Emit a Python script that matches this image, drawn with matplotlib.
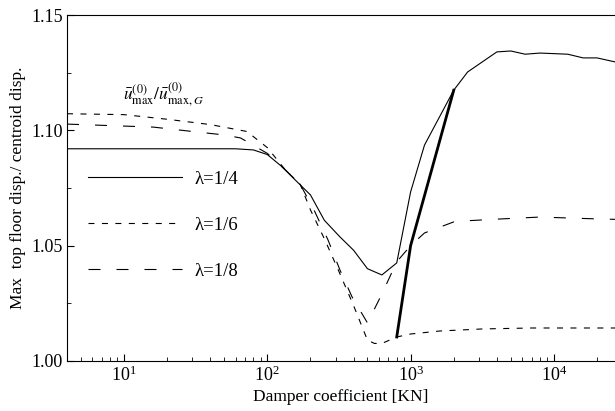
import matplotlib
matplotlib.use('Agg')
import matplotlib.pyplot as plt
import numpy as np

plt.rcParams['font.family'] = ['Liberation Serif', 'DejaVu Serif']
plt.rcParams['mathtext.fontset'] = 'stix'
plt.rcParams['font.size'] = 13

# lambda = 1/4 (solid)
c14 = [4, 10, 30, 60, 80, 100, 125, 160, 200, 250, 320, 400, 500, 630, 800, 1000, 1250,
       2000, 2500, 4000, 5000, 6300, 8000, 12500, 16000, 20000, 27000]
v14 = [1.092, 1.092, 1.092, 1.092, 1.0915, 1.0895, 1.0845, 1.0779, 1.072, 1.061, 1.0539, 1.048,
       1.040, 1.0373, 1.0425, 1.0733, 1.0936, 1.1174, 1.1253, 1.134, 1.1344, 1.133, 1.1335,
       1.133, 1.1314, 1.1314, 1.1296]

# lambda = 1/6 (short dash)
c16 = [4, 10, 20, 40, 72, 100, 133, 170, 200, 250, 315, 400, 500, 560, 630, 800, 1000,
       1600, 3200, 7000, 27000]
v16 = [1.1072, 1.1068, 1.1048, 1.1025, 1.0995, 1.0925, 1.083, 1.0765, 1.0655, 1.053, 1.039,
       1.024, 1.009, 1.0076, 1.0076, 1.0104, 1.0117, 1.013, 1.0139, 1.0143, 1.0143]

# lambda = 1/8 (long dash)
c18 = [4, 16, 30, 50, 65, 100, 133, 170, 215, 265, 321, 390, 500, 630, 800, 1000, 1250,
       2000, 2500, 4000, 8000, 12500, 20000, 27000]
v18 = [1.1027, 1.1014, 1.0995, 1.098, 1.0967, 1.090, 1.083, 1.0765, 1.0646, 1.0525, 1.0395,
       1.0278, 1.0165, 1.029, 1.043, 1.050, 1.0555, 1.0603, 1.0608, 1.0615, 1.0624, 1.062,
       1.0616, 1.0614]

# optimum line
c_opt = [800, 1000, 2000]
v_opt = [1.0104, 1.050, 1.1174]

fig = plt.figure(figsize=(6.15, 4.11), dpi=100)
ax = fig.add_axes([0.109, 0.1217, 0.891, 0.8418])

ax.plot(c14, v14, color='black', lw=0.8, label='λ=1/4')
ax.plot(c16, v16, color='black', lw=0.8, dashes=(5.4, 6.7), label='λ=1/6')
ax.plot(c18, v18, color='black', lw=0.8, dashes=(10.8, 14.4), label='λ=1/8')
ax.plot(c_opt, v_opt, color='black', lw=2.0)

ax.set_xscale('log')
ax.set_xlim(4, 26700)
ax.set_ylim(1.0, 1.15)
ax.set_yticks([1.00, 1.05, 1.10, 1.15])
ax.set_yticks([1.025, 1.075, 1.125], minor=True)
ax.set_yticklabels(['1.00', '1.05', '1.10', '1.15'])

ax.spines['right'].set_visible(False)
ax.tick_params(which='both', direction='in', top=False, right=False)
ax.tick_params(which='major', length=5, width=0.8, pad=3)
ax.tick_params(which='minor', length=3, width=0.6)

ax.set_xlabel('Damper coefficient [KN]', labelpad=3, fontsize=12.5)
ax.set_ylabel('Max  top floor disp./ centroid disp.', labelpad=4, fontsize=12.5)

ax.text(0.102, 0.754, r'$\bar{u}^{(0)}_{\rm max}/\bar{u}^{(0)}_{{\rm max},G}$',
        transform=ax.transAxes, fontsize=12.5, va='baseline')

ax.legend(loc='upper left', bbox_to_anchor=(0.128, 0.608), bbox_transform=fig.transFigure,
          frameon=False, borderpad=0, handlelength=5.0, handletextpad=0.7,
          labelspacing=1.55, fontsize=13.5)

plt.savefig('out.png', dpi=100)
